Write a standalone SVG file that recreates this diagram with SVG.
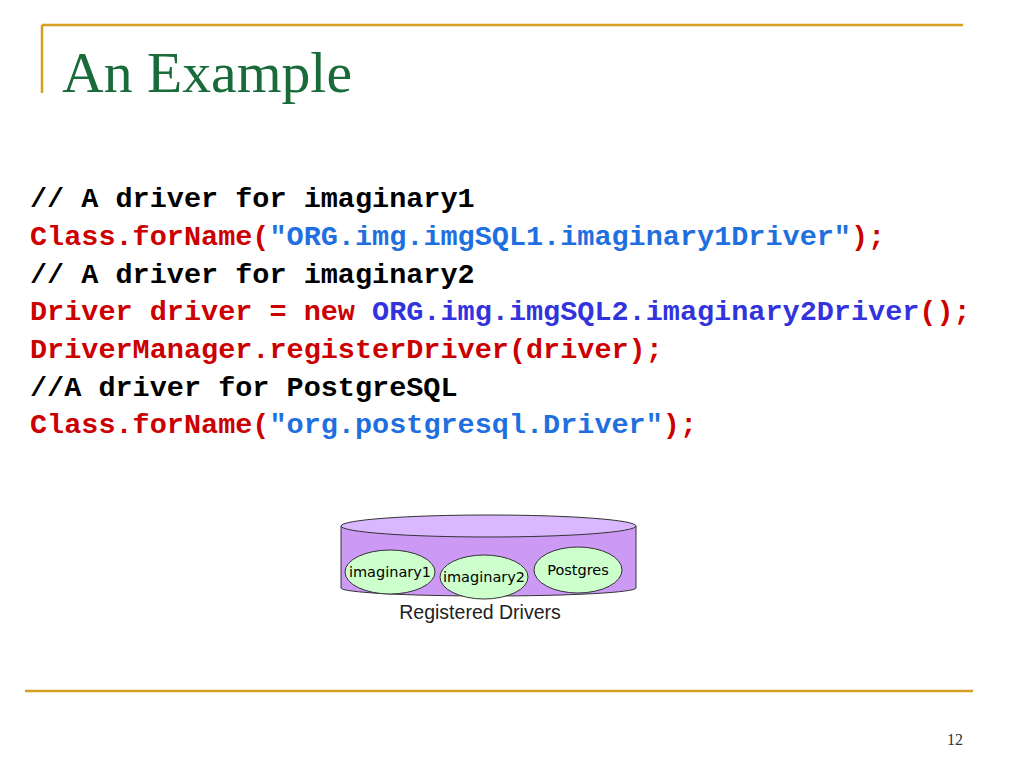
<svg xmlns="http://www.w3.org/2000/svg" width="1024" height="768" viewBox="0 0 1024 768">
<style>
.code{font-family:"Liberation Mono","Courier New",monospace;font-weight:bold;font-size:28.5px}
.k{fill:#000}
.r{fill:#cc0000}
.b{fill:#1f6fe0}
.p{fill:#3333dd}
.gold{stroke:#d4a020;stroke-width:2.5;fill:none}
.drv{fill:#ccffcc;stroke:#333;stroke-width:1}
.dt{font-family:"DejaVu Sans","Comic Sans MS",sans-serif;font-size:14.5px;fill:#000;text-anchor:middle}
</style>
<rect width="1024" height="768" fill="#fff"/>
<g id="frame">
<path class="gold" d="M42 25 H963 M42 25 V93"/>
<path class="gold" d="M25 691 H973"/>
</g>
<text id="title" x="62" y="92" font-family="Liberation Serif,Times New Roman,serif" font-size="57" fill="#1a6b3a" textLength="290" lengthAdjust="spacingAndGlyphs">An Example</text>
<g id="code" class="code">
<text x="30" y="207" class="k">// A driver for imaginary1</text>
<text x="30" y="245"><tspan class="r">Class.forName(</tspan><tspan class="b">"ORG.img.imgSQL1.imaginary1Driver"</tspan><tspan class="r">);</tspan></text>
<text x="30" y="283" class="k">// A driver for imaginary2</text>
<text x="30" y="320"><tspan class="r">Driver driver = new </tspan><tspan class="p">ORG.img.imgSQL2.imaginary2Driver</tspan><tspan class="r">();</tspan></text>
<text x="30" y="358" class="r">DriverManager.registerDriver(driver);</text>
<text x="30" y="396" class="k">//A driver for PostgreSQL</text>
<text x="30" y="433"><tspan class="r">Class.forName(</tspan><tspan class="b">"org.postgresql.Driver"</tspan><tspan class="r">);</tspan></text>
</g>
<g id="registry">
<path d="M341 526 V588 A147.5 8 0 0 0 636 588 V526 Z" fill="#cc99f5" stroke="#333" stroke-width="1"/>
<ellipse cx="488.5" cy="526" rx="147.5" ry="11" fill="#d9b8ff" stroke="#333" stroke-width="1"/>
</g>
<g id="imaginary1"><ellipse class="drv" cx="390" cy="572" rx="45" ry="22"/><text class="dt" x="390" y="577">imaginary1</text></g>
<g id="imaginary2"><ellipse class="drv" cx="484" cy="577" rx="44" ry="22"/><text class="dt" x="484" y="582">imaginary2</text></g>
<g id="postgres"><ellipse class="drv" cx="578" cy="570" rx="44" ry="23"/><text class="dt" x="578" y="575">Postgres</text></g>
<text id="reglabel" x="480" y="619" font-family="Liberation Sans,Arial,sans-serif" font-size="19.5" fill="#222" text-anchor="middle">Registered Drivers</text>
<text id="pagenum" x="947" y="745" font-family="Liberation Serif,Times New Roman,serif" font-size="16" fill="#333">12</text>
</svg>
